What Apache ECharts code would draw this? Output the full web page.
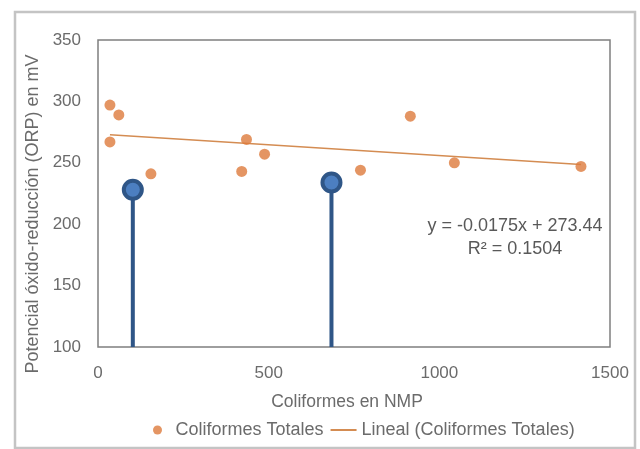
<!DOCTYPE html>
<html><head><meta charset="utf-8">
<script src="https://cdn.jsdelivr.net/npm/echarts@6/dist/echarts.min.js"></script>
<style>html,body{margin:0;padding:0;background:#fff}#c{width:640px;height:449px}</style>
</head><body><div id="c"></div>
<script>
var coliformes = [35, 61, 35, 155, 435, 421, 488, 769, 915, 1044, 1415];
var orp = [297, 289, 267, 241, 269, 243, 257, 244, 288, 250, 247];
var trendX = [35, 1415];
var trendY = [272.8, 248.7];
var pin1X = [102, 102], pin1Y = [100, 228];
var pin2X = [684, 684], pin2Y = [100, 234];
var xTicks = [0, 500, 1000, 1500];
var yTicks = [100, 150, 200, 250, 300, 350];
var eqText = ['y = -0.0175x + 273.44', 'R² = 0.1504'];
var yTitle = 'Potencial óxido-reducción (ORP) en mV';
var xTitle = 'Coliformes en NMP';

function zip(a, b) { return a.map(function (v, i) { return [v, b[i]]; }); }
function pin(xs, ys) {
  return zip(xs, ys).map(function (p, i) {
    return i === 0 ? { value: p, symbol: 'none' } : { value: p };
  });
}
var font = 'Liberation Sans, Arial, sans-serif';
var grey = '#6b6b6b';
var chart = echarts.init(document.getElementById('c'));
chart.setOption({
  animation: false,
  backgroundColor: '#fff',
  grid: { left: 98, right: 30, top: 40, bottom: 102, show: true, borderColor: '#7f7f7f', borderWidth: 1.5, backgroundColor: '#fff' },
  xAxis: {
    type: 'value', min: xTicks[0], max: xTicks[xTicks.length - 1], interval: 500,
    axisLine: { show: false }, axisTick: { show: false }, splitLine: { show: false },
    axisLabel: { color: grey, fontSize: 17, fontFamily: font, margin: 18, formatter: function (v) { return String(v); } },
    name: xTitle, nameLocation: 'middle', nameGap: 46,
    nameTextStyle: { color: grey, fontSize: 17.5, fontFamily: font, padding: [0, 14, 0, 0] }
  },
  yAxis: {
    type: 'value', min: yTicks[0], max: yTicks[yTicks.length - 1], interval: 50,
    axisLine: { show: false }, axisTick: { show: false }, splitLine: { show: false },
    axisLabel: { color: grey, fontSize: 17, fontFamily: font, margin: 17 }
  },
  legend: {
    data: [
      { name: 'Coliformes Totales' },
      { name: 'Lineal (Coliformes Totales)', itemStyle: { opacity: 0 } }
    ],
    left: 148, top: 416, itemGap: 6, itemWidth: 26, itemHeight: 9,
    textStyle: { color: grey, fontSize: 18, fontFamily: font }
  },
  graphic: [
    { type: 'rect', shape: { x: 15, y: 12, width: 620, height: 436 }, style: { fill: 'none', stroke: '#c4c4c4', lineWidth: 2.5 }, silent: true, z: -1 },
    { type: 'text', x: 515, y: 215, style: { text: eqText[0] + '\n' + eqText[1], fill: '#595959', fontSize: 18, fontFamily: font, align: 'center', verticalAlign: 'top', lineHeight: 23 } },
    { type: 'text', x: 33, y: 214, rotation: Math.PI / 2, style: { text: yTitle, fill: grey, fontSize: 18, fontFamily: font, align: 'center', verticalAlign: 'middle' } }
  ],
  series: [
    { name: 'Coliformes Totales', type: 'scatter', data: zip(coliformes, orp), symbolSize: 11, itemStyle: { color: '#dd7b3c' }, z: 3 },
    { name: 'Lineal (Coliformes Totales)', type: 'line', data: zip(trendX, trendY), symbol: 'none', lineStyle: { color: '#d48c52', width: 1.5 }, itemStyle: { color: '#d48c52' }, z: 2 },
    { name: 'pin1', type: 'line', data: pin(pin1X, pin1Y), symbol: 'circle', symbolSize: 18, showSymbol: true, lineStyle: { color: '#2f5687', width: 4 }, itemStyle: { color: '#4c7fc1', borderColor: '#2f5687', borderWidth: 4, opacity: 1 }, z: 5 },
    { name: 'pin2', type: 'line', data: pin(pin2X, pin2Y), symbol: 'circle', symbolSize: 18, showSymbol: true, lineStyle: { color: '#2f5687', width: 4 }, itemStyle: { color: '#4c7fc1', borderColor: '#2f5687', borderWidth: 4, opacity: 1 }, z: 5 }
  ]
});
</script></body></html>
